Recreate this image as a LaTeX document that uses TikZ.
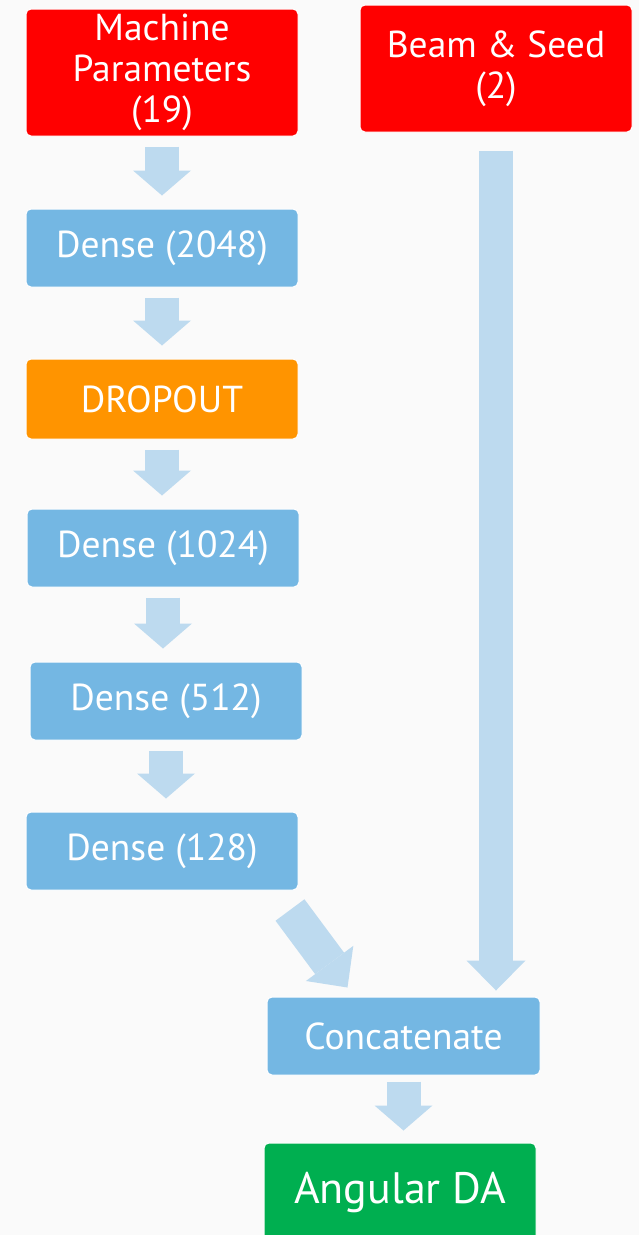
\documentclass[tikz,border=0pt]{standalone}
\usepackage{fontspec}
\setmainfont{PT Sans}
\usetikzlibrary{arrows.meta,calc}
\definecolor{boxred}{HTML}{FF0000}
\definecolor{boxblue}{HTML}{74B7E3}
\definecolor{boxorange}{HTML}{FF9400}
\definecolor{boxgreen}{HTML}{00AF50}
\definecolor{flowblue}{HTML}{BDDAEF}
\definecolor{paper}{HTML}{FAFAFA}

\begin{document}
\begin{tikzpicture}[x=1pt,y=-1pt,
    box/.style={rounded corners=5pt, draw=white, line width=1pt, text=white,
        minimum width=272pt, minimum height=78pt, inner sep=0pt, align=center,
        font=\fontsize{37.5}{41}\selectfont},
    flow/.style={draw=flowblue, line width=34pt,
        -{Triangle[width=58pt,length=25pt,line width=0pt]},
        shorten <=10pt, shorten >=13pt}]
        \useasboundingbox (0,0) rectangle (639,1235);
        \clip (0,0) rectangle (639,1235);
        \fill[paper] (0,0) rectangle (639,1235);

        % inputs
        \node[box, fill=boxred, minimum height=127pt] (mp) at (162,72.5) {Machine\\Parameters\\(19)};
        \node[box, fill=boxred, minimum height=127pt] (bs) at (496,68.5) {Beam \& Seed\\(2)};

        % dense branch
        \node[box, fill=boxblue] (d1) at (162,248) {Dense (2048)};
        \node[box, fill=boxorange, minimum height=80pt] (drop) at (162,399) {DROPOUT};
        \node[box, fill=boxblue] (d2) at (163,548) {Dense (1024)};
        \node[box, fill=boxblue] (d3) at (166,701) {Dense (512)};
        \node[box, fill=boxblue] (d4) at (162,851) {Dense (128)};

        % merge and output
        \node[box, fill=boxblue, minimum width=273pt] (cat) at (403.5,1036) {Concatenate};
        \node[box, fill=boxgreen, minimum height=100pt, font=\fontsize{44}{50}\selectfont] (da) at (400,1193) {Angular DA};

        \foreach \a/\b in {mp/d1,d1/drop,drop/d2,d2/d3,d3/d4} % edit here for the column arrows
        \draw[flow] (\a.south) -- (\a.south |- \b.north);
        \draw[flow, shorten <=18pt, shorten >=6pt, -{Triangle[width=59pt,length=30pt,line width=0pt]}]
            (bs.south) -- (bs.south |- cat.north);
        \draw[flow, line width=36pt, shorten <=0pt, shorten >=0pt, -{Triangle[width=59pt,length=30pt,line width=0pt]}]
            ($(d4.south east)+(-8.5,19.5)$) -- ($(cat.north west)+(81,-9)$);
        \draw[flow, shorten <=6pt, shorten >=12pt] (cat.south) -- (cat.south |- da.north);
\end{tikzpicture}
\end{document}
